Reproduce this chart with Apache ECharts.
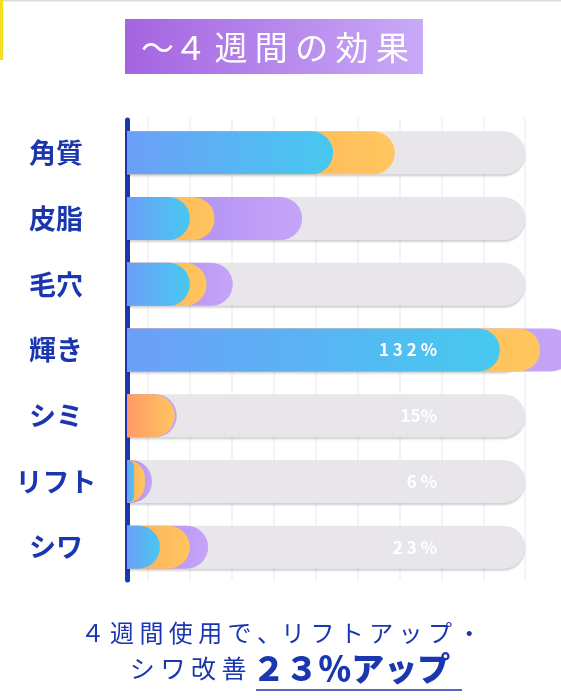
<!DOCTYPE html>
<html><head><meta charset="utf-8">
<script src="https://cdn.jsdelivr.net/npm/echarts@6/dist/echarts.min.js"></script>
<style>html,body{margin:0;padding:0;background:#fff}#c{width:561px;height:700px}</style>
</head><body><div id="c"></div>
<script>
const categories = ['角質','皮脂','毛穴','輝き','シミ','リフト','シワ'];
const valueLabels = ['6 6 %','4 6 %','3 0 %','1 3 2 %','15%','6 %','2 3 %'];
const blueEnd = [51.8, 15.8, 15.8, 93.7, 0, 1.8, 8.3];
const orangeEnd = [67.3, 22, 20, 103.8, 12, 4.5, 15.8];
const purpleEnd = [0, 44, 26.6, 112, 12.5, 6.3, 20.4];
const trackVal = categories.map(() => 100);

const FONT = '"Noto Sans CJK JP", "Noto Sans", sans-serif';
const NAVY = '#1b37b0';
const grad = (a, b) => new echarts.graphic.LinearGradient(0, 0, 1, 0, [{offset:0,color:a},{offset:1,color:b}]);
const R = [0, 22, 22, 0];
const bw = 43;

const chart = echarts.init(document.getElementById('c'));
chart.setOption({
  animation: false,
  backgroundColor: '#fff',
  grid: [
    {left:127, right:36, top:120, bottom:120},
    {left:148, right:36, top:118, bottom:120}
  ],
  xAxis: [
    {gridIndex:0, type:'value', min:0, max:100, show:false},
    {gridIndex:1, type:'value', min:0, max:377, interval:42, axisLabel:{show:false}, axisLine:{show:false}, axisTick:{show:false},
     splitLine:{show:true, lineStyle:{color:'#f1f1f4', width:1.5}}}
  ],
  yAxis: [
    {gridIndex:0, type:'category', data:categories, inverse:true, offset:8,
     axisLine:{show:true, lineStyle:{color:NAVY, width:5, cap:'round'}},
     axisTick:{show:false},
     axisLabel:{margin:63, align:'center', color:NAVY, fontSize:27, fontWeight:'bold', fontFamily:FONT}},
    {gridIndex:1, type:'category', data:categories, inverse:true, show:false}
  ],
  series: [
    {type:'bar', data:trackVal, barWidth:bw, barGap:'-100%', clip:false, z:1, silent:true,
     itemStyle:{color:'#e8e6ea', borderRadius:R, shadowColor:'rgba(0,0,0,0.18)', shadowBlur:2, shadowOffsetY:2}},
    {type:'bar', data:purpleEnd, barWidth:bw, barGap:'-100%', clip:false, z:2,
     itemStyle:{color:grad('#a78af4','#c6a4f8'), borderRadius:R}},
    {type:'bar', data:orangeEnd.map((v,i)=> i===4 ? {value:v, itemStyle:{color:grad('#ff9a68','#ffc460')}} : v),
     barWidth:bw, barGap:'-100%', clip:false, z:3,
     itemStyle:{color:grad('#ffad5e','#ffc65e'), borderRadius:R}},
    {type:'bar', data:blueEnd, barWidth:bw, barGap:'-100%', clip:false, z:4,
     itemStyle:{color:grad('#6c9ff8','#46c9ef'), borderRadius:R}},
    {type:'bar', data:trackVal, barWidth:bw, barGap:'-100%', clip:false, z:10, silent:true,
     itemStyle:{color:'rgba(0,0,0,0)'},
     label:{show:true, position:'insideRight', distance:88,
       formatter: p => valueLabels[p.dataIndex],
       color: p => NAVY, fontSize:17, fontWeight:'bold', fontFamily:FONT,
       rich:{w:{color:'#fff', fontSize:17, fontWeight:'bold', fontFamily:FONT}}}},
    {type:'bar', xAxisIndex:1, yAxisIndex:1, data:[], silent:true}
  ],
  graphic: [
    {type:'rect', shape:{x:125, y:19, width:298, height:55}, z:10,
     style:{fill:new echarts.graphic.LinearGradient(0,0,1,0,[{offset:0,color:'#a464e0'},{offset:1,color:'#c8aaf8'}])}},
    {type:'text', x:275, y:47, z:11, style:{text:'～４ 週 間 の 効 果', fill:'#fff', fontSize:33, fontFamily:FONT, align:'center', verticalAlign:'middle'}},
    {type:'text', x:281, y:633, z:11, style:{text:'４ 週 間 使 用 で 、リ フ ト ア ッ プ ・', fill:NAVY, fontSize:24, fontFamily:FONT, align:'center', verticalAlign:'middle'}},
    {type:'text', x:290, y:668, z:11, style:{
      rich:{a:{fill:NAVY, fontSize:25, fontFamily:FONT}, b:{fill:NAVY, fontSize:33, fontWeight:900, fontFamily:FONT}},
      text:'{a|シ ワ 改 善 }{b|２３％アップ}', align:'center', verticalAlign:'middle'}},
    {type:'line', z:11, shape:{x1:256, y1:690, x2:462, y2:690}, style:{stroke:NAVY, lineWidth:1.5}},
    {type:'rect', shape:{x:0, y:0, width:561, height:1.5}, style:{fill:'#ddd'}},
    {type:'rect', shape:{x:0, y:0, width:3, height:60}, style:{fill:'#f5e020'}}
  ]
});
chart.setOption({series:[{},{},{},{},{data:trackVal.map((v,i)=> i===3 ? {value:v, label:{color:'#fff'}} : v)}]});
</script></body></html>
